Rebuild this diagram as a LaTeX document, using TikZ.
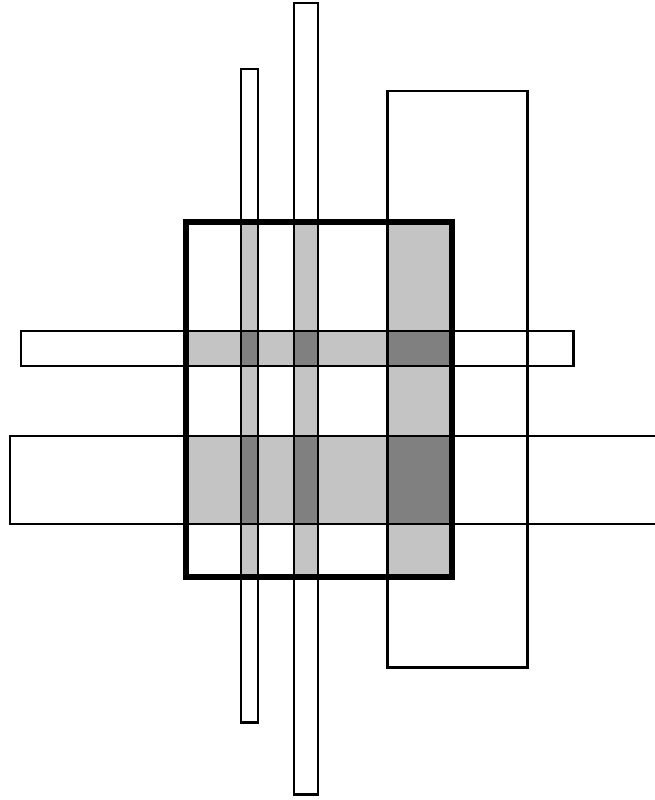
\documentclass[tikz,border=0pt]{standalone}
\usepackage{xcolor}
\usepackage{tikz}
\definecolor{cellgray}{HTML}{C4C4C4}
\definecolor{crossgray}{HTML}{808080}
\tikzset{
	bar/.style={draw=black, line width=1.7pt},
	frame/.style={draw=black, line width=3.4pt}
}

\begin{document}
\begin{tikzpicture}[x=0.02cm, y=-0.02cm]
	\useasboundingbox (0,0) rectangle (654,800);
	% shading inside the frame
	\begin{scope}
		\clip (186,222) rectangle (452,577);
		\foreach \xa/\xb in {241/258, 294/318, 387/527}
			\fill[cellgray] (\xa,0) rectangle (\xb,800);
		\foreach \ya/\yb in {331/366, 436/524}
			\fill[cellgray] (0,\ya) rectangle (654,\yb);
		\foreach \xa/\xb in {241/258, 294/318, 387/527}
			\foreach \ya/\yb in {331/366, 436/524}
				\fill[crossgray] (\xa,\ya) rectangle (\xb,\yb);
	\end{scope}
	% vertical bars
	\draw[bar] (241,69) rectangle (258,722);
	\draw[bar] (294,3) rectangle (318,794);
	\draw[bar] (387,91) rectangle (527,667);
	% horizontal bars
	\draw[bar] (21,331) rectangle (573,366);
	\draw[bar] (10,436) rectangle (680,524);
	% frame
	\draw[frame] (186,222) rectangle (452,577);
\end{tikzpicture}
\end{document}
